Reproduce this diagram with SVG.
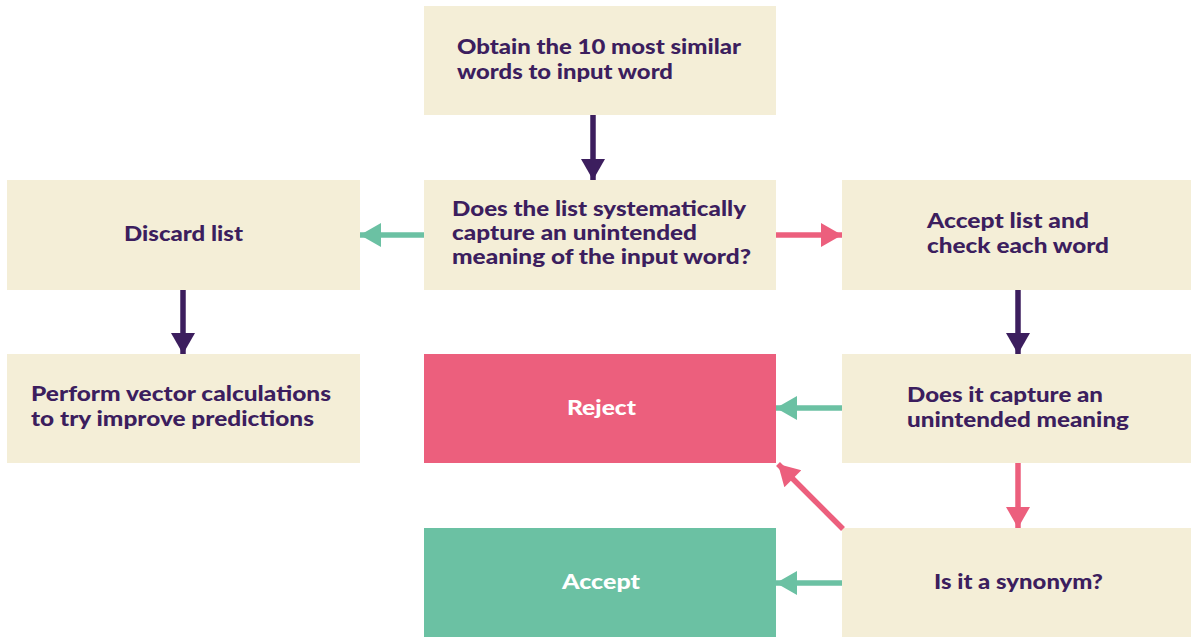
<svg xmlns="http://www.w3.org/2000/svg" width="1191" height="637" viewBox="0 0 1191 637">
<style>
.box{fill:#F4EED7}
.rej{fill:#EC5F7D}
.acc{fill:#6BC1A3}
.t{font-family:"Lato","Liberation Sans",sans-serif;font-weight:900;font-size:21px;fill:#3C1E5E}
.w{fill:#FFFFFF}
.c{text-anchor:middle}
.sp{stroke:#3C1E5E;stroke-width:5.5;fill:none}
.sg{stroke:#6BC1A3;stroke-width:5.5;fill:none}
.sr{stroke:#EC5F7D;stroke-width:5.5;fill:none}
</style>
<defs>
<marker id="hp" markerUnits="userSpaceOnUse" markerWidth="24" markerHeight="24" viewBox="0 0 21 24" refX="21" refY="12" orient="auto"><path d="M0,0 L21,12 L0,24 Z" fill="#3C1E5E"/></marker>
<marker id="hg" markerUnits="userSpaceOnUse" markerWidth="24" markerHeight="24" viewBox="0 0 21 24" refX="21" refY="12" orient="auto"><path d="M0,0 L21,12 L0,24 Z" fill="#6BC1A3"/></marker>
<marker id="hr" markerUnits="userSpaceOnUse" markerWidth="24" markerHeight="24" viewBox="0 0 21 24" refX="21" refY="12" orient="auto"><path d="M0,0 L21,12 L0,24 Z" fill="#EC5F7D"/></marker>
</defs>
<rect width="1191" height="637" fill="#FFFFFF"/>
<g id="n-obtain"><rect class="box" x="424" y="6" width="352" height="109"/>
<text class="t" x="457" y="54" textLength="284" lengthAdjust="spacingAndGlyphs">Obtain the 10 most similar</text>
<text class="t" x="457" y="79" textLength="216" lengthAdjust="spacingAndGlyphs">words to input word</text></g>
<g id="n-discard"><rect class="box" x="7" y="180" width="353" height="110"/>
<text class="t" x="124" y="241" textLength="119" lengthAdjust="spacingAndGlyphs">Discard list</text></g>
<g id="n-question"><rect class="box" x="424" y="180" width="352" height="110"/>
<text class="t" x="452" y="216" textLength="294" lengthAdjust="spacingAndGlyphs">Does the list systematically</text>
<text class="t" x="452" y="240" textLength="245" lengthAdjust="spacingAndGlyphs">capture an unintended</text>
<text class="t" x="452" y="264" textLength="299" lengthAdjust="spacingAndGlyphs">meaning of the input word?</text></g>
<g id="n-acceptlist"><rect class="box" x="842" y="180" width="349" height="110"/>
<text class="t" x="927" y="228" textLength="162" lengthAdjust="spacingAndGlyphs">Accept list and</text>
<text class="t" x="927" y="253" textLength="182" lengthAdjust="spacingAndGlyphs">check each word</text></g>
<g id="n-perform"><rect class="box" x="7" y="354" width="353" height="109"/>
<text class="t" x="31" y="401" textLength="300" lengthAdjust="spacingAndGlyphs">Perform vector calculations</text>
<text class="t" x="31" y="426" textLength="283" lengthAdjust="spacingAndGlyphs">to try improve predictions</text></g>
<g id="n-reject"><rect class="rej" x="424" y="354" width="352" height="109"/>
<text class="t w" x="567" y="415" textLength="69" lengthAdjust="spacingAndGlyphs">Reject</text></g>
<g id="n-capture"><rect class="box" x="842" y="354" width="349" height="109"/>
<text class="t" x="907" y="402" textLength="196" lengthAdjust="spacingAndGlyphs">Does it capture an</text>
<text class="t" x="907" y="427" textLength="222" lengthAdjust="spacingAndGlyphs">unintended meaning</text></g>
<g id="n-accept"><rect class="acc" x="424" y="528" width="352" height="109"/>
<text class="t w" x="562" y="589" textLength="78" lengthAdjust="spacingAndGlyphs">Accept</text></g>
<g id="n-synonym"><rect class="box" x="842" y="528" width="349" height="109"/>
<text class="t" x="934" y="589" textLength="169" lengthAdjust="spacingAndGlyphs">Is it a synonym?</text></g>
<g id="connectors">
<line class="sp" x1="593" y1="115" x2="593" y2="180" marker-end="url(#hp)"/>
<line class="sg" x1="424" y1="235" x2="360" y2="235" marker-end="url(#hg)"/>
<line class="sr" x1="776" y1="235" x2="842" y2="235" marker-end="url(#hr)"/>
<line class="sp" x1="183" y1="290" x2="183" y2="354" marker-end="url(#hp)"/>
<line class="sp" x1="1018" y1="290" x2="1018" y2="354" marker-end="url(#hp)"/>
<line class="sg" x1="842" y1="408" x2="776" y2="408" marker-end="url(#hg)"/>
<line class="sr" x1="1018" y1="463" x2="1018" y2="528" marker-end="url(#hr)"/>
<line class="sr" x1="843" y1="529" x2="778" y2="464" marker-end="url(#hr)"/>
<line class="sg" x1="842" y1="583" x2="776" y2="583" marker-end="url(#hg)"/>
</g>
</svg>
